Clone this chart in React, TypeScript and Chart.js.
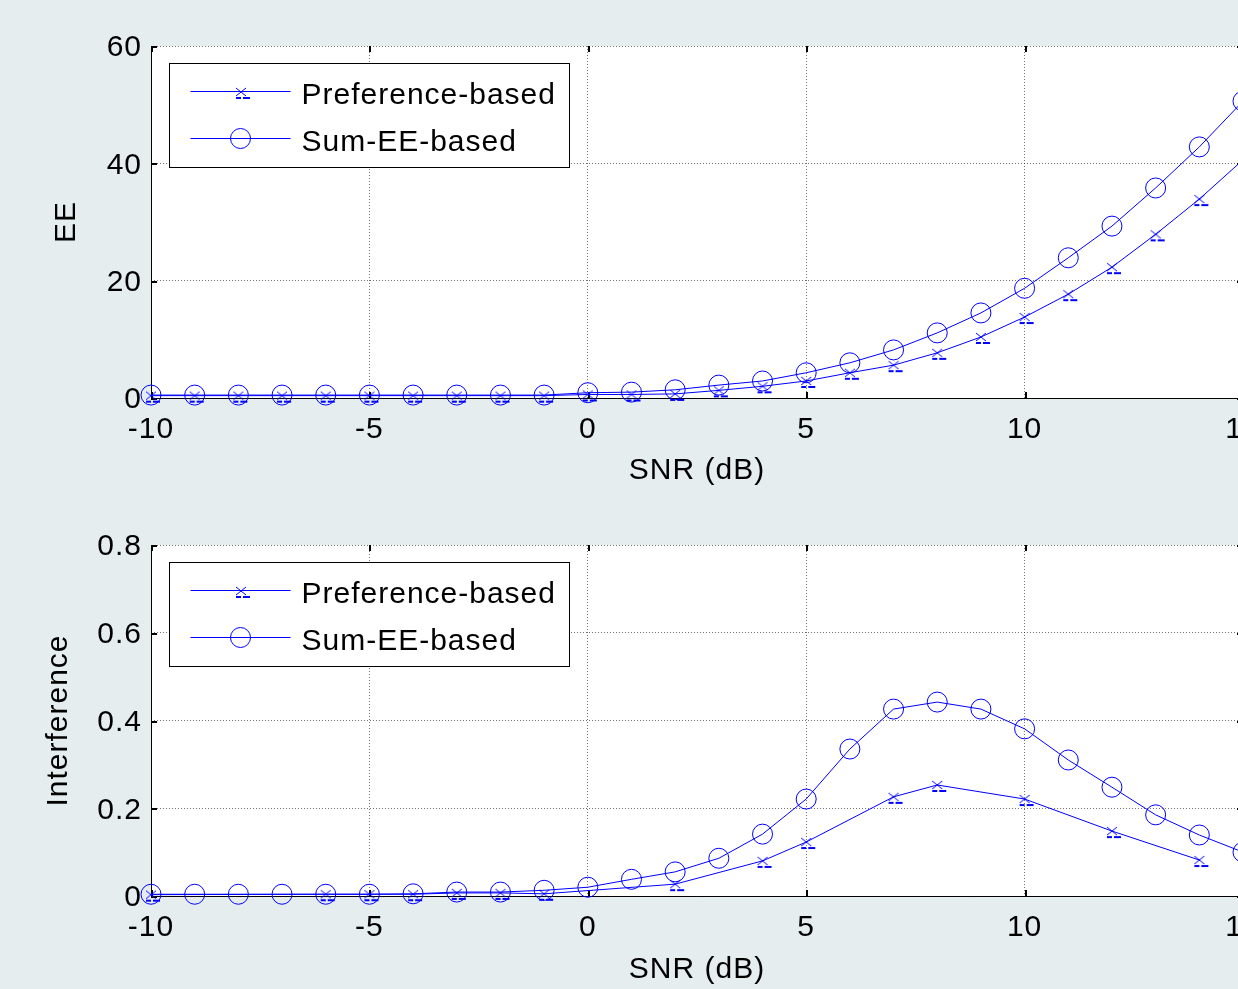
import React, { useEffect, useRef } from 'react';
import { Chart, registerables } from 'chart.js';

Chart.register(...registerables);

// ---------------- data ----------------
const snr = [-10, -9, -8, -7, -6, -5, -4, -3, -2, -1, 0, 1, 2, 3, 4, 5, 6, 7, 8, 9, 10, 11, 12, 13, 14, 15];

const eePreference = [0.4, 0.4, 0.4, 0.4, 0.4, 0.4, 0.4, 0.4, 0.4, 0.4, 0.6, 0.6, 0.7, 1.3, 2.0, 2.9, 4.3, 5.6, 7.7, 10.4, 13.8, 17.7, 22.3, 27.9, 33.9, 40.6];
const eeSumEE = [0.5, 0.5, 0.5, 0.5, 0.5, 0.5, 0.5, 0.5, 0.5, 0.5, 0.9, 1.0, 1.4, 2.2, 2.9, 4.3, 6.0, 8.2, 11.1, 14.5, 18.7, 23.9, 29.3, 35.8, 42.8, 50.6];

const intPreferenceSnr = [-10, -6, -5, -4, -3, -2, -1, 2, 4, 5, 7, 8, 10, 12, 14];
const intPreference = [0.003, 0.004, 0.004, 0.004, 0.007, 0.007, 0.005, 0.027, 0.080, 0.123, 0.226, 0.253, 0.221, 0.148, 0.082];
const intSumEE = [0.004, 0.004, 0.004, 0.004, 0.004, 0.004, 0.005, 0.009, 0.009, 0.013, 0.020, 0.038, 0.055, 0.086, 0.141, 0.221, 0.335, 0.426, 0.442, 0.426, 0.381, 0.310, 0.248, 0.185, 0.139, 0.100];

const seriesNames = ['Preference-based', 'Sum-EE-based'];
const xTicks = [-10, -5, 0, 5, 10, 15];
const xTickLabels = ['-10', '-5', '0', '5', '10', '15'];
const eeTicks = [0, 20, 40, 60];
const eeTickLabels = ['0', '20', '40', '60'];
const intTicks = [0, 0.2, 0.4, 0.6, 0.8];
const intTickLabels = ['0', '0.2', '0.4', '0.6', '0.8'];

// ---------------- style ----------------
const BLUE = 'rgb(0,0,255)';
const BG = '#e5edef';
const FONT = "'Liberation Sans', Arial, sans-serif";

function makeCrossImage(): HTMLCanvasElement {
  const c = document.createElement('canvas');
  c.width = 24;
  c.height = 24;
  const g = c.getContext('2d')!;
  const cx = 12, cy = 12;
  g.strokeStyle = BLUE;
  g.lineWidth = 1;
  g.beginPath();
  g.moveTo(cx - 5, cy - 4);
  g.lineTo(cx + 5, cy + 4);
  g.moveTo(cx + 5, cy - 4);
  g.lineTo(cx - 5, cy + 4);
  g.stroke();
  g.fillStyle = BLUE;
  g.fillRect(cx - 5, cy + 5, 5, 2);
  g.fillRect(cx + 2, cy + 5, 7, 2);
  return c;
}

const spacingPlugin = {
  id: 'spacing',
  beforeLayout(chart: any) { chart.ctx.letterSpacing = '1px'; },
  beforeDraw(chart: any) { chart.ctx.letterSpacing = '1px'; },
};

function makeFramePlugin(yTickVals: number[], cross: HTMLCanvasElement) {
  return {
    id: 'frame',
    beforeDraw(chart: any) {
      const { ctx, chartArea: a } = chart;
      ctx.save();
      ctx.fillStyle = '#ffffff';
      ctx.fillRect(a.left, a.top, a.right - a.left, a.bottom - a.top);
      ctx.restore();
    },
    beforeDatasetsDraw(chart: any) {
      const { ctx, chartArea: a, scales } = chart;
      const xs = scales.x, ys = scales.y;
      const L = Math.round(a.left) + 0.5;
      const B = Math.round(a.bottom) + 0.5;
      ctx.save();
      ctx.strokeStyle = '#000';
      ctx.lineWidth = 1;
      ctx.beginPath();
      ctx.moveTo(L, a.top);
      ctx.lineTo(L, B);
      ctx.lineTo(a.right, B);
      ctx.stroke();
      ctx.lineWidth = 2;
      ctx.beginPath();
      for (const v of xTicks) {
        const px = Math.round(xs.getPixelForValue(v)) + 1;
        ctx.moveTo(px, a.bottom);
        ctx.lineTo(px, a.bottom - 6);
        ctx.moveTo(px, a.top);
        ctx.lineTo(px, a.top + 6);
      }
      for (const v of yTickVals) {
        const py = Math.round(ys.getPixelForValue(v)) + 1;
        ctx.moveTo(a.left, py);
        ctx.lineTo(a.left + 6, py);
        ctx.moveTo(a.right, py);
        ctx.lineTo(a.right - 6, py);
      }
      ctx.stroke();
      ctx.restore();
    },
    afterDraw(chart: any) {
      const { ctx, chartArea: a } = chart;
      const bx = Math.round(a.left + 18) + 0.5;
      const by = Math.round(a.top + 17) + 0.5;
      const bw = 400, bh = 104;
      ctx.save();
      ctx.fillStyle = '#fff';
      ctx.fillRect(bx, by, bw, bh);
      ctx.strokeStyle = '#000';
      ctx.lineWidth = 1;
      ctx.strokeRect(bx, by, bw, bh);
      ctx.font = `30px ${FONT}`;
      (ctx as any).letterSpacing = '1px';
      ctx.textBaseline = 'middle';
      ctx.textAlign = 'left';
      chart.data.datasets.forEach((ds: any, i: number) => {
        const ly = Math.round(by + 27 + i * 47.3) + 0.5;
        ctx.strokeStyle = BLUE;
        ctx.lineWidth = 1;
        ctx.beginPath();
        ctx.moveTo(bx + 21, ly);
        ctx.lineTo(bx + 121, ly);
        ctx.stroke();
        const mx = bx + 71;
        if (i === 0) {
          ctx.drawImage(cross, Math.round(mx - 12), Math.round(ly - 12));
        } else {
          ctx.beginPath();
          ctx.arc(mx, ly, 10, 0, Math.PI * 2);
          ctx.stroke();
        }
        ctx.fillStyle = '#000';
        ctx.fillText(ds.label, bx + 132, ly + 4.5);
      });
      ctx.restore();
    },
  };
}

function buildChart(
  canvas: HTMLCanvasElement,
  cfg: {
    prefX: number[]; pref: number[]; sumX: number[]; sum: number[];
    yMax: number; yTicks: number[]; yLabels: string[]; yTitle: string;
    padLeft: number; padTop: number; yWidth: number; xHeight: number;
  },
) {
  const cross = makeCrossImage();
  const tickFont = { family: FONT, size: 30 };
  return new Chart(canvas, {
    type: 'line',
    data: {
      datasets: [
        {
          label: seriesNames[0],
          data: cfg.prefX.map((x, i) => ({ x, y: cfg.pref[i] })),
          borderColor: BLUE,
          borderWidth: 1,
          pointStyle: cross as any,
          pointRadius: 6,
          pointHoverRadius: 6,
          backgroundColor: 'transparent',
          tension: 0,
          clip: false as any,
        },
        {
          label: seriesNames[1],
          data: cfg.sumX.map((x, i) => ({ x, y: cfg.sum[i] })),
          borderColor: BLUE,
          borderWidth: 1,
          pointStyle: 'circle',
          pointRadius: 10,
          pointHoverRadius: 10,
          pointBorderColor: BLUE,
          pointBorderWidth: 1,
          pointBackgroundColor: 'transparent',
          backgroundColor: 'transparent',
          tension: 0,
          clip: false as any,
        },
      ],
    },
    options: {
      responsive: false,
      animation: false,
      events: [],
      layout: {
        autoPadding: false,
        padding: { left: cfg.padLeft, top: cfg.padTop, right: 47, bottom: 0 },
      },
      plugins: {
        legend: { display: false },
        tooltip: { enabled: false },
      },
      scales: {
        x: {
          type: 'linear',
          min: -10,
          max: 15,
          afterBuildTicks: (s: any) => { s.ticks = xTicks.map((v) => ({ value: v })); },
          afterFit: (s: any) => { s.height = cfg.xHeight; },
          ticks: {
            autoSkip: false,
            maxRotation: 0,
            padding: 14,
            color: '#000',
            font: tickFont,
            callback: (_v: any, i: number) => xTickLabels[i],
          },
          grid: { color: 'rgba(0,0,0,0.55)', lineWidth: 1, drawTicks: false },
          border: { display: false, dash: [1, 2] },
          title: { display: true, text: 'SNR (dB)', color: '#000', font: tickFont, padding: { top: 4, bottom: 1 } },
        },
        y: {
          type: 'linear',
          min: 0,
          max: cfg.yMax,
          afterBuildTicks: (s: any) => { s.ticks = cfg.yTicks.map((v) => ({ value: v })); },
          afterFit: (s: any) => { s.width = cfg.yWidth; },
          ticks: {
            padding: 9,
            labelOffset: 2,
            color: '#000',
            font: tickFont,
            callback: (_v: any, i: number) => cfg.yLabels[i],
          },
          grid: { color: 'rgba(0,0,0,0.55)', lineWidth: 1, drawTicks: false },
          border: { display: false, dash: [1, 2] },
          title: { display: true, text: cfg.yTitle, color: '#000', font: tickFont, padding: { top: 4, bottom: 4 } },
        },
      },
    } as any,
    plugins: [spacingPlugin, makeFramePlugin(cfg.yTicks, cross)],
  });
}

export default function App() {
  const topRef = useRef<HTMLCanvasElement>(null);
  const botRef = useRef<HTMLCanvasElement>(null);

  useEffect(() => {
    document.body.style.margin = '0';
    const top = buildChart(topRef.current!, {
      prefX: snr, pref: eePreference, sumX: snr, sum: eeSumEE,
      yMax: 60, yTicks: eeTicks, yLabels: eeTickLabels, yTitle: 'EE',
      padLeft: 45, padTop: 46, yWidth: 106, xHeight: 92,
    });
    const bot = buildChart(botRef.current!, {
      prefX: intPreferenceSnr, pref: intPreference, sumX: snr, sum: intSumEE,
      yMax: 0.8, yTicks: intTicks, yLabels: intTickLabels, yTitle: 'Interference',
      padLeft: 37, padTop: 45, yWidth: 114, xHeight: 93,
    });
    return () => {
      top.destroy();
      bot.destroy();
    };
  }, []);

  return (
    <div
      style={{
        position: 'fixed', left: 0, top: 0, width: 1238, height: 989,
        overflow: 'hidden', background: BG,
      }}
    >
      <canvas ref={topRef} width={1290} height={490} style={{ position: 'absolute', left: 0, top: 0 }} />
      <canvas ref={botRef} width={1290} height={489} style={{ position: 'absolute', left: 0, top: 500 }} />
    </div>
  );
}
